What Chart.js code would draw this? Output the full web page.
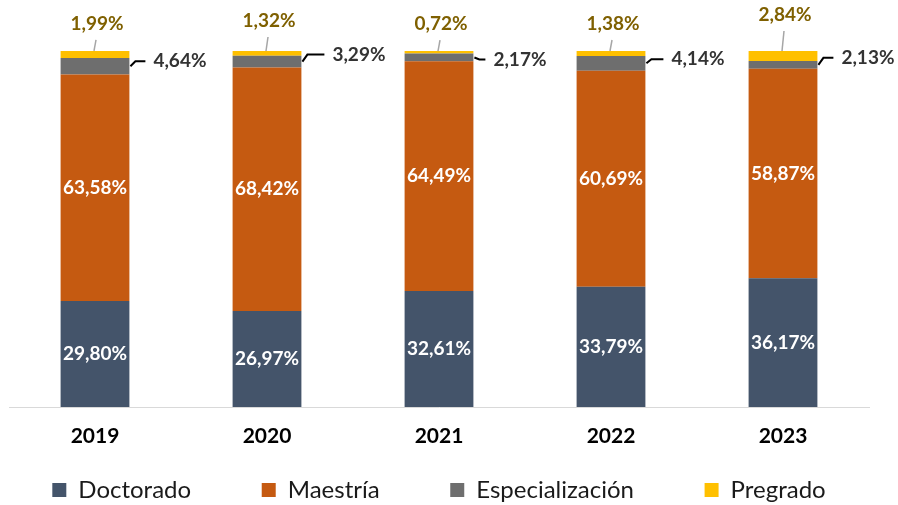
<!DOCTYPE html>
<html lang="es">

<head>
    <meta charset="UTF-8">
    <meta name="viewport" content="width=device-width, initial-scale=1.0">
    <script src="https://cdn.jsdelivr.net/npm/chart.js"></script>
    <title>Formación</title>
</head>

<body>
    <div class="chart-wrapper">
        <canvas id="myChart"></canvas>
    </div>
    <style>
        body {
            background-color: #fff;
            margin: 0;
            overflow: hidden;
        }

        .chart-wrapper {
            position: relative;
            width: 898px;
            height: 512px;
        }
    </style>
    <script>
        const years = ["2019", "2020", "2021", "2022", "2023"];
        const doctorado = [29.80, 26.97, 32.61, 33.79, 36.17];
        const maestria = [63.58, 68.42, 64.49, 60.69, 58.87];
        const especializacion = [4.64, 3.29, 2.17, 4.14, 2.13];
        const pregrado = [1.99, 1.32, 0.72, 1.38, 2.84];

        // hand placed label nudges (px), like the leader lines in the original
        const espShift = [-5, -7, 2, -4, -7];
        const espGap = [24, 31, 20, 26, 24];
        const preLift = [27, 30, 27, 27, 36];

        const fmt = (v) => v.toFixed(2).replace(".", ",") + "%";

        const segmentLabels = {
            id: "segmentLabels",
            afterDatasetsDraw(chart) {
                const ctx = chart.ctx;
                const sets = chart.data.datasets;
                ctx.save();
                ctx.font = "bold 19px Lato";
                ctx.textBaseline = "middle";

                // white labels inside the two big segments
                ctx.fillStyle = "#fff";
                ctx.textAlign = "center";
                [0, 1].forEach((d) => {
                    chart.getDatasetMeta(d).data.forEach((bar, i) => {
                        ctx.fillText(fmt(sets[d].data[i]), bar.x, (bar.y + bar.base) / 2);
                    });
                });

                // especialización: label to the right with a leader
                ctx.textAlign = "left";
                chart.getDatasetMeta(2).data.forEach((bar, i) => {
                    const right = bar.x + bar.width / 2;
                    const mid = (bar.y + bar.base) / 2;
                    const ly = mid + espShift[i];
                    const tx = right + espGap[i];
                    ctx.strokeStyle = "#000";
                    ctx.lineWidth = 2;
                    ctx.beginPath();
                    ctx.moveTo(right + 1, mid);
                    ctx.lineTo(right + 6, ly);
                    ctx.lineTo(tx - 8, ly);
                    ctx.stroke();
                    ctx.fillStyle = "#333";
                    ctx.fillText(fmt(sets[2].data[i]), tx, ly);
                });

                // pregrado: label above with a thin gray leader
                ctx.textAlign = "center";
                chart.getDatasetMeta(3).data.forEach((bar, i) => {
                    const ly = bar.y - preLift[i];
                    ctx.strokeStyle = "#a6a6a6";
                    ctx.lineWidth = 1.5;
                    ctx.beginPath();
                    ctx.moveTo(bar.x - 1, bar.y);
                    ctx.lineTo(bar.x + 1, ly + 16);
                    ctx.stroke();
                    ctx.fillStyle = "#7f6000";
                    ctx.fillText(fmt(sets[3].data[i]), bar.x + 2, ly);
                });
                ctx.restore();
            }
        };

        Chart.defaults.font.family = "Lato";
        Chart.defaults.color = "#000";

        new Chart(document.getElementById("myChart"), {
            type: "bar",
            data: {
                labels: years,
                datasets: [
                    { label: "Doctorado", data: doctorado, backgroundColor: "#44546a" },
                    { label: "Maestría", data: maestria, backgroundColor: "#c55a11" },
                    { label: "Especialización", data: especializacion, backgroundColor: "#6e6e6e" },
                    { label: "Pregrado", data: pregrado, backgroundColor: "#ffc000" }
                ]
            },
            options: {
                responsive: true,
                maintainAspectRatio: false,
                animation: false,
                layout: {
                    padding: { top: 51, left: 9, right: 29, bottom: 0 }
                },
                datasets: {
                    bar: { categoryPercentage: 1, barPercentage: 0.4, borderWidth: 0 }
                },
                scales: {
                    x: {
                        stacked: true,
                        grid: { display: false, drawTicks: false },
                        border: { display: true, color: "#d9d9d9", width: 1 },
                        ticks: { padding: 17, font: { size: 21, weight: "bold" } },
                        afterFit: (scale) => { scale.height = 68; }
                    },
                    y: {
                        stacked: true,
                        display: false,
                        min: 0,
                        max: 100
                    }
                },
                plugins: {
                    tooltip: { enabled: false },
                    legend: {
                        position: "bottom",
                        labels: {
                            boxWidth: 14,
                            boxHeight: 14,
                            padding: 3,
                            color: "#1a1a1a",
                            font: { size: 24 },
                            generateLabels: (chart) => {
                                const items = Chart.defaults.plugins.legend.labels.generateLabels(chart);
                                items.forEach((it, i) => {
                                    if (i < items.length - 1) it.text += " ".repeat(11);
                                });
                                return items;
                            }
                        }
                    }
                }
            },
            plugins: [segmentLabels]
        });
    </script>
</body>

</html>
